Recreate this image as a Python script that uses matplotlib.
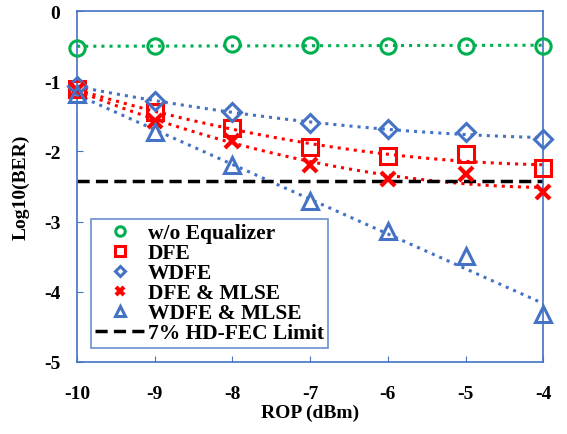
import numpy as np
import matplotlib
matplotlib.use("Agg")
import matplotlib.pyplot as plt

plt.rcParams["font.family"] = ["Liberation Serif", "DejaVu Serif"]
plt.rcParams["font.weight"] = "bold"
plt.rcParams["axes.unicode_minus"] = False

rop = [-10, -9, -8, -7, -6, -5, -4]
wo_eq = [-0.53, -0.49, -0.47, -0.48, -0.49, -0.49, -0.50]
dfe = [-1.11, -1.44, -1.66, -1.94, -2.06, -2.04, -2.24]
wdfe = [-1.07, -1.28, -1.44, -1.60, -1.68, -1.73, -1.82]
dfe_mlse = [-1.12, -1.56, -1.85, -2.19, -2.39, -2.32, -2.58]
wdfe_mlse = [-1.18, -1.73, -2.20, -2.71, -3.14, -3.49, -4.32]
fec_limit = np.log10(3.8e-3)

GREEN = "#00B050"
RED = "#FF0000"
BLUE = "#4472C4"

series = [
    ("w/o Equalizer", wo_eq, GREEN, "o", 1),
    ("DFE", dfe, RED, "s", 2),
    ("WDFE", wdfe, BLUE, "D", 2),
    ("DFE & MLSE", dfe_mlse, RED, "x", 2),
    ("WDFE & MLSE", wdfe_mlse, BLUE, "^", 1),
]

fig = plt.figure(figsize=(5.67, 4.35), dpi=100)
ax = fig.add_axes([0.136, 0.166, 0.822, 0.806])

xs = np.linspace(-10, -4, 100)
handles = []
for name, y, c, m, deg in series:
    # trend line (like the Excel one)
    p = np.polyfit(rop, y, deg)
    ax.plot(xs, np.polyval(p, xs), ":", color=c, lw=2.2, zorder=2)
    ms = 9 if m == "D" else 11
    if m == "x":
        h, = ax.plot(rop, y, ls="none", marker=m, ms=10, mew=3, color=c,
                     zorder=3, label=name, clip_on=False)
    else:
        h, = ax.plot(rop, y, ls="none", marker=m, ms=ms, mew=2.2, mfc="none",
                     mec=c, zorder=3, label=name, clip_on=False)
    handles.append(h)

fl = ax.axhline(fec_limit, color="black", ls=(0, (3.5, 1.8)), lw=2.5,
                zorder=2.5, label="7% HD-FEC Limit")
handles.append(fl)

ax.set_xlim(-10, -4)
ax.set_ylim(-5, 0)
ax.set_xticks(rop)
ax.set_yticks([0, -1, -2, -3, -4, -5])
ax.tick_params(direction="in", length=4, color=BLUE, labelsize=14)
ax.tick_params(axis="x", pad=17)
ax.tick_params(axis="y", pad=12)
for lab in ax.get_xticklabels() + ax.get_yticklabels():
    lab.set_fontweight("bold")
for s in ax.spines.values():
    s.set_color(BLUE)
    s.set_linewidth(1.2)

ax.set_xlabel("ROP (dBm)", fontsize=14, fontweight="bold", labelpad=1)
ax.set_ylabel("Log10(BER)", fontsize=14, fontweight="bold", labelpad=10)

leg = ax.legend(handles=handles, loc="lower left",
                bbox_to_anchor=(0.03, 0.04), fontsize=15.5, frameon=True,
                fancybox=False, edgecolor=BLUE, handlelength=2.3,
                handletextpad=0.15, borderpad=0.2, labelspacing=0.0,
                borderaxespad=0, markerscale=0.62)
leg.get_frame().set_linewidth(1.2)
for t in leg.get_texts():
    t.set_fontweight("bold")

fig.savefig("out.png", dpi=100)
